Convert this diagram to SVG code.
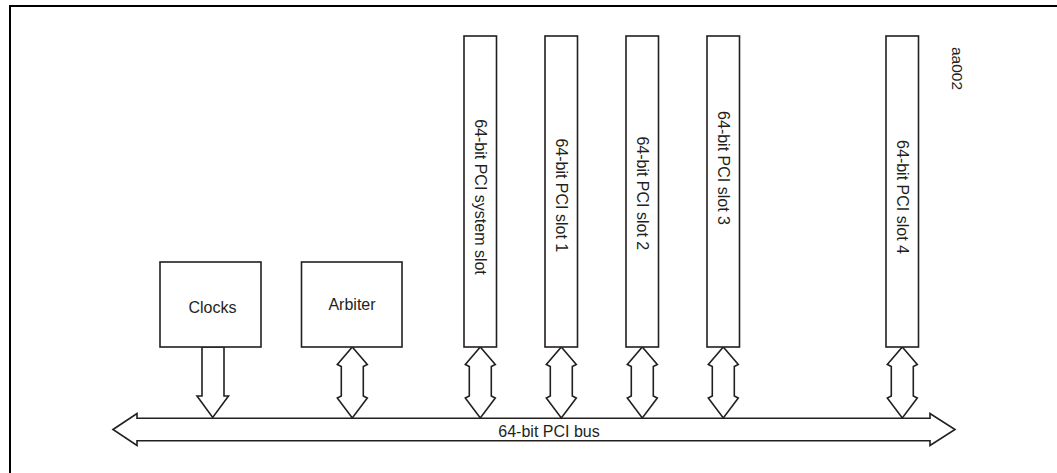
<svg xmlns="http://www.w3.org/2000/svg" width="1057" height="473" viewBox="0 0 1057 473">
<style>
.box{fill:#fff;stroke:#231f20;stroke-width:1.6}
.arr{fill:#fff;stroke:#231f20;stroke-width:1.6;stroke-linejoin:miter}
.t{font-family:"Liberation Sans",Arial,sans-serif;font-size:16px;fill:#231f20}
</style>
<defs>
<path id="dbl" d="M0,0 L15,17.5 L11,19.5 L11,49 L15,51 L0,71 L-15,51 L-11,49 L-11,19.5 L-15,17.5 Z"/>
</defs>
<rect x="10" y="6" width="1060" height="480" fill="#fff" stroke="#000" stroke-width="2"/>
<text class="t" text-anchor="middle" transform="translate(957,68.5) rotate(90)" y="5.5" style="font-size:15.5px">aa002</text>
<g id="connectors">
<polygon class="arr" points="113,429.5 137,413.5 137,418.3 930,418.3 930,413.5 955,429.5 930,445.5 930,440.7 137,440.7 137,445.5"/>
<polygon class="arr" points="202,347 224,347 224,396 228.5,396 212.7,417.5 197,396 202,396"/>
<use href="#dbl" class="arr" x="352.3" y="347"/>
<use href="#dbl" class="arr" x="480.3" y="347"/>
<use href="#dbl" class="arr" x="561.3" y="347"/>
<use href="#dbl" class="arr" x="642.3" y="347"/>
<use href="#dbl" class="arr" x="723.3" y="347"/>
<use href="#dbl" class="arr" x="902.3" y="347"/>
</g>
<g id="clocks"><rect class="box" x="160" y="262" width="101" height="85"/><text class="t" x="212.5" y="313" text-anchor="middle">Clocks</text></g>
<g id="arbiter"><rect class="box" x="301.5" y="262" width="100.5" height="85"/><text class="t" x="352" y="310" text-anchor="middle">Arbiter</text></g>
<g id="slot-system"><rect class="box" x="464" y="36" width="32.5" height="311"/><text class="t" text-anchor="middle" transform="translate(480.3,197) rotate(90)" y="5.5">64-bit PCI system slot</text></g>
<g id="slot-1"><rect class="box" x="545" y="36" width="32.5" height="311"/><text class="t" text-anchor="middle" transform="translate(561.3,195.3) rotate(90)" y="5.5">64-bit PCI slot 1</text></g>
<g id="slot-2"><rect class="box" x="626" y="36" width="32.5" height="311"/><text class="t" text-anchor="middle" transform="translate(642.3,193.3) rotate(90)" y="5.5">64-bit PCI slot 2</text></g>
<g id="slot-3"><rect class="box" x="707" y="36" width="32.5" height="311"/><text class="t" text-anchor="middle" transform="translate(723.3,168) rotate(90)" y="5.5">64-bit PCI slot 3</text></g>
<g id="slot-4"><rect class="box" x="886" y="36" width="32.5" height="311"/><text class="t" text-anchor="middle" transform="translate(902.3,197) rotate(90)" y="5.5">64-bit PCI slot 4</text></g>
<text class="t" x="549" y="436.5" text-anchor="middle">64-bit PCI bus</text>
</svg>
